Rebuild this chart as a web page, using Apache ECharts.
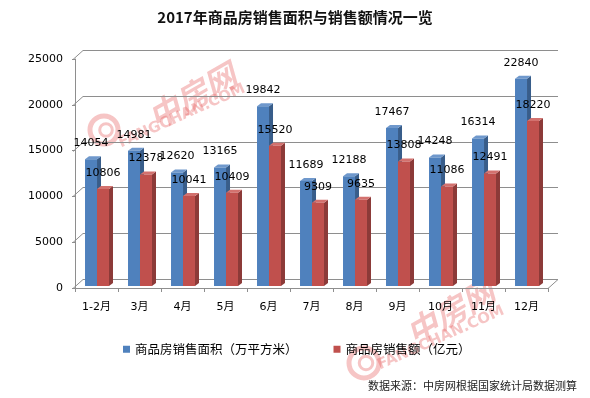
<!DOCTYPE html>
<html>
<head>
<meta charset="utf-8">
<script src="https://cdn.jsdelivr.net/npm/echarts@6/dist/echarts.min.js"></script>
<style>html,body{margin:0;padding:0;background:#fff;}#c{width:590px;height:398px;}</style>
</head>
<body>
<div id="c"></div>
<script>
const categories = ['1-2月','3月','4月','5月','6月','7月','8月','9月','10月','11月','12月'];
const areaValues = [14054,14981,12620,13165,19842,11689,12188,17467,14248,16314,22840];
const amountValues = [10806,12378,10041,10409,15520,9309,9635,13808,11086,12491,18220];
const yTicks = [0,5000,10000,15000,20000,25000];
const seriesNames = ['商品房销售面积（万平方米）','商品房销售额（亿元）'];

const NUM_FONT = '"DejaVu Sans", "Noto Sans CJK SC", sans-serif';
const CJK_FONT = '"Noto Sans CJK SC", sans-serif';

function barRender(startFrac, front, side, top) {
  return function (params, api) {
    const idx = api.value(0), v = api.value(1);
    const p = api.coord([idx, v]);
    const p0 = api.coord([idx, 0]);
    const band = api.size([1, 0])[0];
    const w = band * 0.279;
    const dx = band * 0.093, dy = -3;
    const xl = p[0] + startFrac * band;
    const yt = p[1], yb = p0[1] - 2;
    return {
      type: 'group',
      children: [
        { type: 'polygon', shape: { points: [[xl + w, yt], [xl + w + dx, yt + dy], [xl + w + dx, yb + dy], [xl + w, yb]] }, style: { fill: side } },
        { type: 'polygon', shape: { points: [[xl, yt], [xl + dx, yt + dy], [xl + w + dx, yt + dy], [xl + w, yt]] }, style: { fill: top } },
        { type: 'rect', shape: { x: xl, y: yt, width: w, height: yb - yt }, style: { fill: front } },
        { type: 'text', z2: 100, style: { text: String(v), x: xl + w / 2, y: yt - 16, align: 'center', verticalAlign: 'middle', fontSize: 11, fontFamily: NUM_FONT, fill: '#000' } }
      ]
    };
  };
}

function frameRender(params, api) {
  const cs = params.coordSys;
  const v = api.value(1);
  const x0 = cs.x - 2, x1 = cs.x + cs.width;
  const y = Math.round(api.coord([0, v])[1]) + 0.5;
  const D = 10, E = 9;
  const st = { stroke: '#8e8e8e', lineWidth: 1, fill: null };
  const children = [
    { type: 'line', shape: { x1: x0 + D, y1: y - E, x2: x1 + D, y2: y - E }, style: st },
    { type: 'line', shape: { x1: x0, y1: y, x2: x0 + D, y2: y - E }, style: st }
  ];
  if (v === 0) {
    children.push({ type: 'line', shape: { x1: x1, y1: y, x2: x1 + D, y2: y - E }, style: st });
  }
  return { type: 'group', children: children };
}

function watermark(cx, cy, circleX, circleY, r, fcx, fcy) {
  const col = 'rgba(228,80,80,0.33)';
  return [
    { type: 'circle', z: 0, shape: { cx: circleX, cy: circleY, r: r }, style: { fill: null, stroke: col, lineWidth: 5 } },
    { type: 'circle', z: 0, shape: { cx: circleX + 2, cy: circleY, r: r * 0.45 }, style: { fill: null, stroke: col, lineWidth: 3 } },
    { type: 'text', z: 0, x: cx, y: cy, rotation: 0.52, style: { text: '中房网', fontSize: 32, fontStyle: 'italic', fontWeight: 'bold', fontFamily: CJK_FONT, fill: col, align: 'center', verticalAlign: 'middle' } },
    { type: 'text', z: 0, x: fcx, y: fcy, rotation: 0.42, style: { text: 'FANGCHAN.COM', fontSize: 15, fontWeight: 'bold', fontFamily: '"DejaVu Sans", sans-serif', fill: col, align: 'center', verticalAlign: 'middle' } }
  ];
}

const chart = echarts.init(document.getElementById('c'), null, { renderer: 'canvas' });
chart.setOption({
  animation: false,
  backgroundColor: '#fff',
  title: {
    text: '2017年商品房销售面积与销售额情况一览',
    left: 'center', top: 5,
    textStyle: { fontSize: 15, fontWeight: 'bold', color: '#111', fontFamily: CJK_FONT }
  },
  legend: {
    data: seriesNames,
    left: 118, top: 338,
    icon: 'rect', itemWidth: 7, itemHeight: 7, itemGap: 36,
    textStyle: { fontSize: 12.5, color: '#000', fontFamily: CJK_FONT }
  },
  grid: { left: 75, right: 42, top: 59, bottom: 110 },
  xAxis: {
    type: 'category', data: categories, boundaryGap: true,
    axisLine: { show: true, lineStyle: { color: '#8e8e8e' } },
    axisTick: { show: true, length: 4, lineStyle: { color: '#8e8e8e' } },
    axisLabel: { margin: 14, fontSize: 11, color: '#000', fontFamily: NUM_FONT }
  },
  yAxis: {
    type: 'value', min: 0, max: 25000, interval: 5000,
    axisLine: { show: true, lineStyle: { color: '#8e8e8e' } },
    axisTick: { show: true, length: 3, lineStyle: { color: '#8e8e8e' } },
    splitLine: { show: false },
    axisLabel: { margin: 12, fontSize: 11, color: '#000', fontFamily: NUM_FONT, formatter: function (v) { return String(v); } }
  },
  graphic: [].concat(
    watermark(192, 96, 104, 130, 14, 182, 116),
    watermark(450, 312, 364, 363, 15, 441, 338),
    [{ type: 'text', right: 13, top: 380, z: 5, style: { text: '数据来源：中房网根据国家统计局数据测算', fontSize: 11, fill: '#222', fontFamily: CJK_FONT } }]
  ),
  series: [
    {
      type: 'custom', name: 'frame', z: 1, silent: true,
      data: yTicks.map(v => [0, v]),
      renderItem: frameRender
    },
    {
      type: 'custom', name: seriesNames[0], z: 3,
      itemStyle: { color: '#4F81BD' },
      data: areaValues.map((v, i) => [i, v]),
      renderItem: barRender(-0.267, '#4F81BD', '#385D8A', '#6F98CC')
    },
    {
      type: 'custom', name: seriesNames[1], z: 4,
      itemStyle: { color: '#C0504D' },
      data: amountValues.map((v, i) => [i, v]),
      renderItem: barRender(0.0116, '#C0504D', '#8C3A38', '#D3716E')
    }
  ]
});
</script>
</body>
</html>
